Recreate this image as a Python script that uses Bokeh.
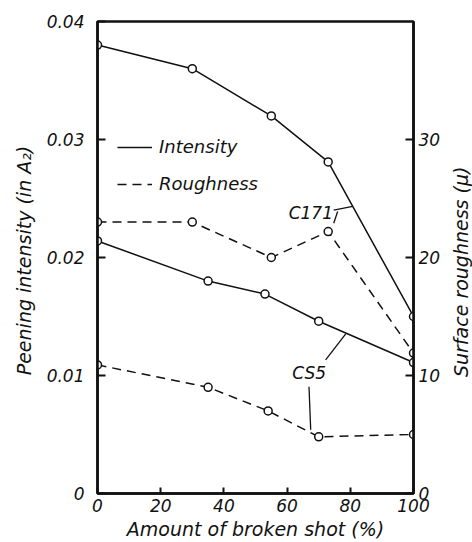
import math
from bokeh.plotting import figure
from bokeh.layouts import row
from bokeh.models import (Range1d, LinearAxis, FixedTicker, Legend, LegendItem,
                          ColumnDataSource)
from bokeh.core.properties import value
from bokeh.embed import file_html
from bokeh.resources import INLINE

# ---- data ----
x_c171 = [0, 30, 55, 73, 100]
intensity_c171 = [0.0380, 0.0360, 0.0320, 0.0281, 0.0150]
x_c171_rough = [0, 30, 55, 73, 100]
roughness_c171 = [23.0, 23.0, 20.0, 22.2, 11.9]

x_cs5 = [0, 35, 53, 70, 100]
intensity_cs5 = [0.0214, 0.0180, 0.0169, 0.0146, 0.0111]
x_cs5_rough = [0, 35, 54, 70, 100]
roughness_cs5 = [10.9, 9.0, 7.0, 4.8, 5.0]

x_ticks = [0, 20, 40, 60, 80, 100]
left_ticks = [0, 0.01, 0.02, 0.03, 0.04]
right_ticks = [0, 10, 20, 30]

# curve labels (data-space anchor points) and leader lines
label_text = ["C171", "CS5"]
label_x = [67.5, 67.0]
label_y = [0.02375, 0.0102]
leader_x0 = [74.75, 76.0, 72.2, 66.93]
leader_y0 = [0.02401, 0.02390, 0.01133, 0.00904]
leader_x1 = [80.77, 74.75, 78.56, 67.47]
leader_y1 = [0.02434, 0.02290, 0.01353, 0.00541]

right_title_text = ["Surface  roughness  (\u03bc)"]

FONT = value("DejaVu Sans")
INK = "#111111"

p = figure(width=446, height=542, x_range=Range1d(0, 100), y_range=Range1d(0, 0.04),
           output_backend="svg", toolbar_location=None,
           min_border_left=97, min_border_right=33, min_border_top=21, min_border_bottom=48)
p.extra_y_ranges = {"r": Range1d(0, 40)}

p.xgrid.visible = False
p.ygrid.visible = False
p.outline_line_color = INK
p.outline_line_width = 2.5
p.background_fill_color = "white"
p.border_fill_color = "white"

def style_axis(ax, ticks, tin):
    ax.ticker = FixedTicker(ticks=ticks)
    ax.major_tick_in = tin
    ax.major_tick_out = 0
    ax.minor_tick_line_color = None
    ax.axis_line_width = 2.5
    ax.axis_line_color = INK
    ax.major_tick_line_width = 2
    ax.major_tick_line_color = INK
    ax.major_label_text_font = "DejaVu Sans"
    ax.major_label_text_font_style = "italic"
    ax.major_label_text_font_size = "17px"
    ax.major_label_text_color = INK
    ax.axis_label_text_font = "DejaVu Sans"
    ax.axis_label_text_font_style = "italic"
    ax.axis_label_text_font_size = "19px"
    ax.axis_label_text_color = INK

xa = p.xaxis[0]
style_axis(xa, x_ticks, 6)
xa.axis_label = "Amount of broken shot (%)"
xa.major_label_standoff = 5
xa.axis_label_standoff = 3

ya = p.yaxis[0]
style_axis(ya, left_ticks, 8)
ya.major_label_overrides = {0: "0"}
ya.axis_label = "Peening intensity  (in A\u2082)"
ya.major_label_standoff = 13
ya.axis_label_standoff = 9

ra = LinearAxis(y_range_name="r")
style_axis(ra, right_ticks, 8)
ra.major_label_standoff = 5
p.add_layout(ra, "right")

# ---- curves ----
src_ic = ColumnDataSource(dict(x=x_c171, y=intensity_c171))
src_rc = ColumnDataSource(dict(x=x_c171_rough, y=roughness_c171))
src_is = ColumnDataSource(dict(x=x_cs5, y=intensity_cs5))
src_rs = ColumnDataSource(dict(x=x_cs5_rough, y=roughness_cs5))

l_int = p.line("x", "y", source=src_ic, line_color=INK, line_width=1.5)
l_rough = p.line("x", "y", source=src_rc, line_color=INK, line_width=1.5,
                 line_dash="9 6", y_range_name="r")
p.line("x", "y", source=src_is, line_color=INK, line_width=1.5)
p.line("x", "y", source=src_rs, line_color=INK, line_width=1.5,
       line_dash="9 6", y_range_name="r")

# leader lines and labels
p.segment(x0=leader_x0, y0=leader_y0, x1=leader_x1, y1=leader_y1,
          line_color=INK, line_width=1.3)
p.text(x=label_x, y=label_y, text=label_text, text_font=FONT,
       text_font_style="italic", text_font_size="17px", text_color=INK,
       text_align="center", text_baseline="middle")

for src, rng in ((src_ic, "default"), (src_rc, "r"), (src_is, "default"), (src_rs, "r")):
    p.scatter("x", "y", source=src, marker="circle", size=8, fill_color="white",
              line_color=INK, line_width=1.5, y_range_name=rng)

legend = Legend(items=[LegendItem(label="Intensity", renderers=[l_int]),
                       LegendItem(label="Roughness", renderers=[l_rough])],
                location=(20, 299), border_line_color=None, background_fill_alpha=0,
                glyph_width=35, glyph_height=20, label_height=20, label_standoff=7,
                spacing=16, padding=0, margin=0,
                label_text_font="DejaVu Sans", label_text_font_style="italic",
                label_text_font_size="18px", label_text_color=INK)
p.add_layout(legend)

# ---- narrow strip carrying the right-axis title (reads bottom-to-top) ----
p2 = figure(width=26, height=542, x_range=Range1d(0, 1), y_range=Range1d(0, 40),
            output_backend="svg", toolbar_location=None,
            x_axis_location=None, y_axis_location=None,
            min_border_left=0, min_border_right=0, min_border_top=21, min_border_bottom=48)
p2.xgrid.visible = False
p2.ygrid.visible = False
p2.outline_line_color = None
p2.background_fill_color = "white"
p2.border_fill_color = "white"
p2.text(x=[0.55], y=[19.3], text=right_title_text, angle=math.pi / 2,
        text_font=FONT, text_font_style="italic", text_font_size="19px",
        text_color=INK, text_align="center", text_baseline="middle")

layout = row(p, p2, spacing=0)
open("out.html", "w").write(file_html(layout, INLINE))
